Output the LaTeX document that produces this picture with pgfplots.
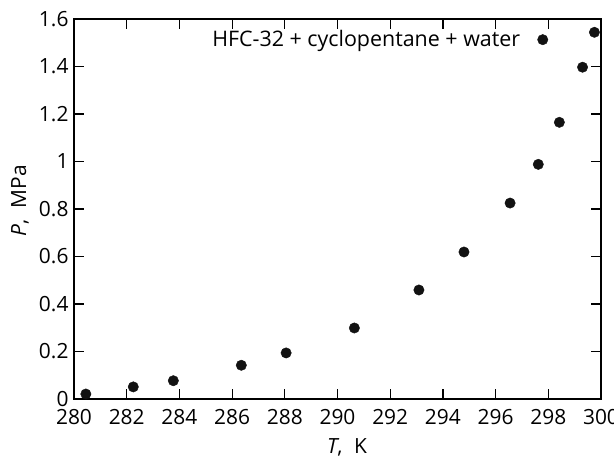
\documentclass[border=0pt]{standalone}
\usepackage{fontspec}
\setmainfont{Open Sans}
\usepackage{pgfplots}
\pgfplotsset{compat=1.18}
\newcommand{\bigf}{\fontsize{21}{25}\selectfont}
\begin{document}
\begin{tikzpicture}
\begin{axis}[
  name=ax,
  scale only axis,
  width=527bp, height=380bp,
  xmin=280, xmax=300, ymin=0, ymax=1.6,
  xtick={280,282,...,300},
  ytick={0,0.2,...,1.6},
  yticklabels={0,0.2,0.4,0.6,0.8,1,1.2,1.4,1.6},
  tick align=inside,
  major tick length=10bp,
  tick style={line width=1.2bp, black},
  axis line style={line width=1.2bp},
  /pgf/number format/assume math mode=true,
  every tick label/.append style={font=\bigf},
  every axis label/.append style={font=\bigf},
  xticklabel style={yshift=-7bp},
  yticklabel style={xshift=-2bp},
  xlabel={\textit{T},\hspace{0.55em}K},
  ylabel={\textit{P},\hspace{0.55em}MPa},
  xlabel style={at={(rel axis cs:0.518,-0.1025)}, anchor=north, inner sep=0pt},
  ylabel style={at={(rel axis cs:-0.1025,0.521)}, anchor=center, inner sep=0pt},
  clip=false,
]
\addplot[only marks, mark=*, mark size=5.2bp, mark options={fill=black!93, draw=black!93}] coordinates {
(280.45,0.021) (282.25,0.051) (283.77,0.077) (286.35,0.142) (288.05,0.194)
(290.64,0.299) (293.09,0.459) (294.80,0.619) (296.55,0.825) (297.62,0.988)
(298.42,1.165) (299.30,1.397) (297.79,1.513) (299.75,1.544)
};
\node[anchor=west, inner sep=0pt, font=\fontsize{21.5}{25}\selectfont] at (rel axis cs:0.262,0.942) {HFC-32 + cyclopentane + water};
\end{axis}
\pgfresetboundingbox
\path ([xshift=-74bp,yshift=-59bp]ax.south west) rectangle ([xshift=13bp,yshift=19bp]ax.north east);
\end{tikzpicture}
\end{document}
